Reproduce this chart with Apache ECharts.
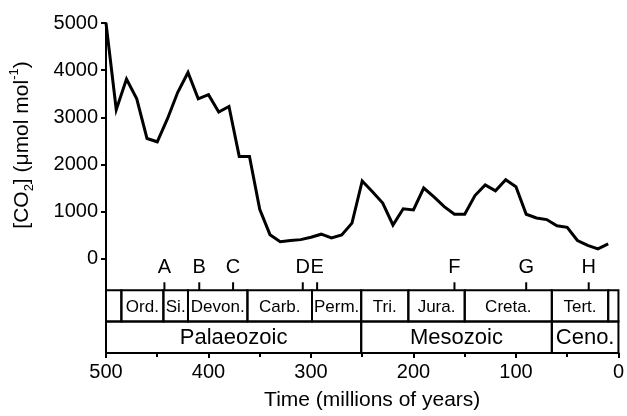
<!DOCTYPE html>
<html>
<head>
<meta charset="utf-8">
<script src="https://cdn.jsdelivr.net/npm/echarts@6/dist/echarts.min.js"></script>
<style>
html,body{margin:0;padding:0;background:#fff;}
#chart{width:627px;height:416px;}
</style>
</head>
<body>
<div id="chart"></div>
<script>
// ---- data ----
const ages = [500,490,480,470,460,450,440,430,420,410,400,390,380,370,360,350,340,330,320,310,300,290,280,270,260,250,240,230,220,210,200,190,180,170,160,150,140,130,120,110,100,90,80,70,60,50,40,30,20,10];
const co2 = [5000,3160,3810,3390,2550,2480,2970,3530,3950,3390,3480,3110,3230,2170,2170,1050,510,360,385,405,455,520,440,505,755,1650,1420,1180,715,1060,1035,1500,1310,1105,943,943,1340,1565,1440,1677,1525,943,865,830,700,665,386,281,210,314];

const periodNames = ['', 'Ord.', 'Si.', 'Devon.', 'Carb.', 'Perm.', 'Tri.', 'Jura.', 'Creta.', 'Tert.', ''];
const periodStart = [500, 485, 444, 420, 362, 299, 251, 205, 150, 65, 10];
const periodEnd   = [485, 444, 420, 362, 299, 251, 205, 150, 65, 10, 0];

const eraNames = ['Palaeozoic', 'Mesozoic', 'Ceno.'];
const eraStart = [500, 251, 65];
const eraEnd   = [251, 65, 0];

const markerLetters = ['A','B','C','D','E','F','G','H'];
const markerAges    = [443, 409, 376, 308, 294, 160, 90, 29];

const yTickValues = [0, 1000, 2000, 3000, 4000, 5000];

// ---- layout constants (axis units) ----
const ROW_TOP = -667, ROW_MID = -1333, ROW_BOTTOM = -2000;
const MARK_TOP = -500, MARK_TEXT = -190;

const FONT = "'Liberation Sans', Arial, Helvetica, sans-serif";

const lineData = ages.map((a, i) => [a, co2[i]]);
const periodData = periodNames.map((n, i) => [periodStart[i], periodEnd[i], i]);
const eraData = eraNames.map((n, i) => [eraStart[i], eraEnd[i], i]);
const markerData = markerAges.map((a, i) => [a, i]);

function cellRenderer(names, yTop, yBot, fontSize) {
  return function (params, api) {
    const s = api.value(0), e = api.value(1), idx = api.value(2);
    const p1 = api.coord([s, yTop]);
    const p2 = api.coord([e, yBot]);
    const x = Math.min(p1[0], p2[0]), w = Math.abs(p2[0] - p1[0]);
    const y = Math.min(p1[1], p2[1]), h = Math.abs(p2[1] - p1[1]);
    return {
      type: 'group',
      children: [
        { type: 'rect', shape: { x: x, y: y, width: w, height: h },
          style: { fill: null, stroke: '#000', lineWidth: 2 } },
        { type: 'text', x: x + w / 2, y: y + h / 2 + 1,
          style: { text: names[idx], fill: '#000', font: fontSize + 'px ' + FONT,
                   align: 'center', verticalAlign: 'middle' } }
      ]
    };
  };
}

const chart = echarts.init(document.getElementById('chart'), null, { renderer: 'canvas' });
chart.setOption({
  animation: false,
  backgroundColor: '#fff',
  grid: { left: 106, right: 6, top: 23, bottom: 58, containLabel: false },
  xAxis: {
    type: 'value', inverse: true, min: 0, max: 500, interval: 100,
    axisLine: { show: true, onZero: false, lineStyle: { color: '#000', width: 2 } },
    axisTick: { show: true, length: 5, lineStyle: { color: '#000', width: 2 } },
    minorTick: { show: true, splitNumber: 2, length: 4, lineStyle: { color: '#000', width: 2 } },
    splitLine: { show: false },
    axisLabel: { color: '#000', fontSize: 20, fontFamily: FONT, margin: 9 },
    name: 'Time (millions of years)', nameLocation: 'middle', nameGap: 37,
    nameTextStyle: { color: '#000', fontSize: 21, fontFamily: FONT, padding: [0, 0, 0, 20] }
  },
  yAxis: {
    type: 'value', min: -2000, max: 5000, interval: 1000,
    axisLine: { show: true, onZero: false, lineStyle: { color: '#000', width: 2 } },
    axisTick: { show: true, length: 5, customValues: yTickValues, lineStyle: { color: '#000', width: 2 } },
    splitLine: { show: false },
    axisLabel: { color: '#000', fontSize: 20, fontFamily: FONT, margin: 8, customValues: yTickValues,
                 formatter: function (v) { return v < 0 ? '' : String(v); } }
  },
  graphic: [{
    type: 'text', x: 22, y: 145, rotation: Math.PI / 2,
    style: {
      text: '[CO{sub|2}] (μmol mol{sup|-1})',
      font: '21px ' + FONT, fill: '#000', align: 'center', verticalAlign: 'middle',
      rich: {
        sub: { fontSize: 13, fontFamily: FONT, fill: '#000', verticalAlign: 'bottom', lineHeight: 28 },
        sup: { fontSize: 13, fontFamily: FONT, fill: '#000', verticalAlign: 'top', lineHeight: 28 }
      }
    }
  }],
  series: [
    {
      type: 'line', data: lineData, symbol: 'none', smooth: false, z: 5,
      lineStyle: { color: '#000', width: 3, join: 'miter' }
    },
    {
      type: 'custom', data: periodData, z: 3,
      renderItem: cellRenderer(periodNames, ROW_TOP, ROW_MID, 17)
    },
    {
      type: 'custom', data: eraData, z: 3,
      renderItem: cellRenderer(eraNames, ROW_MID, ROW_BOTTOM, 22)
    },
    {
      type: 'custom', data: markerData, z: 3,
      renderItem: function (params, api) {
        const a = api.value(0), idx = api.value(1);
        const p1 = api.coord([a, ROW_TOP]);
        const p2 = api.coord([a, MARK_TOP]);
        const p3 = api.coord([a, MARK_TEXT]);
        return {
          type: 'group',
          children: [
            { type: 'line', shape: { x1: p1[0], y1: p1[1], x2: p2[0], y2: p2[1] },
              style: { stroke: '#000', lineWidth: 2 } },
            { type: 'text', x: p3[0], y: p3[1],
              style: { text: markerLetters[idx], fill: '#000', font: '20px ' + FONT,
                       align: 'center', verticalAlign: 'middle' } }
          ]
        };
      }
    }
  ]
});
</script>
</body>
</html>
